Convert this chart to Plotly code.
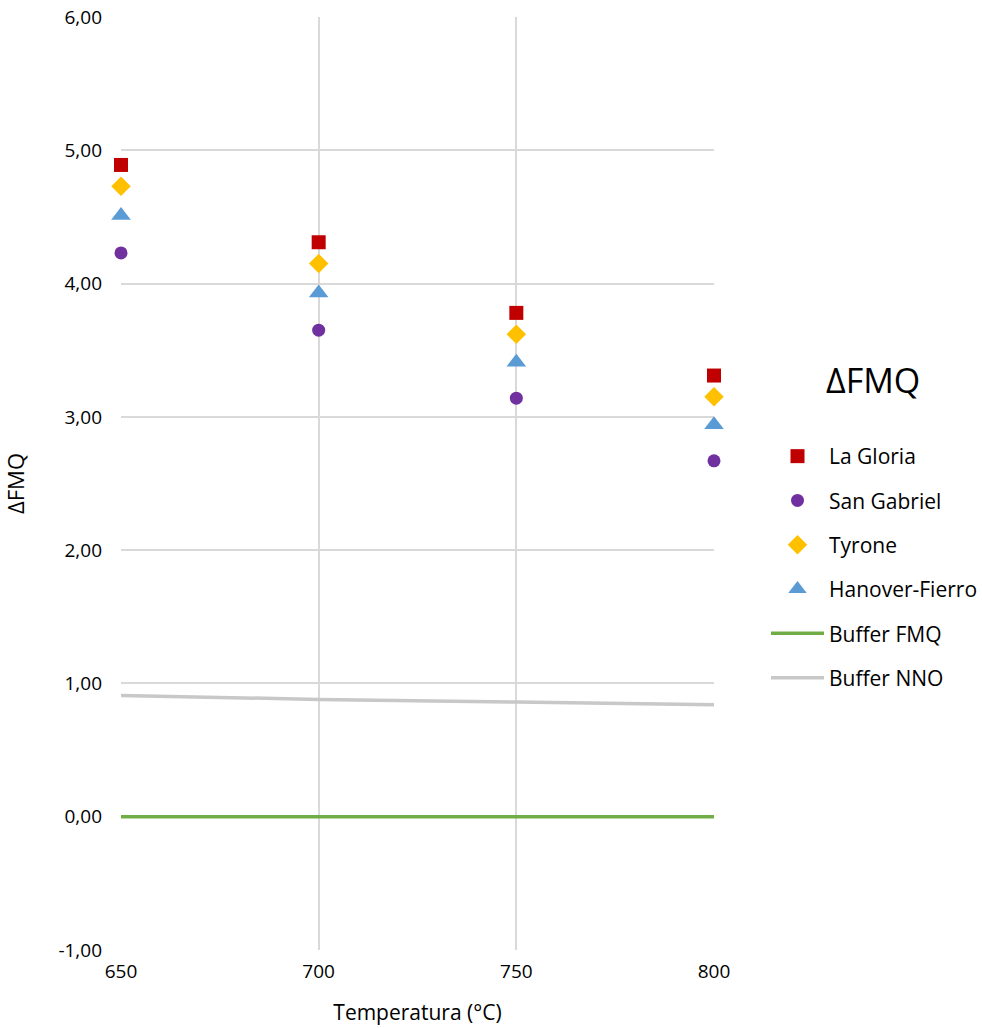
import plotly.graph_objects as go

temps = [650, 700, 750, 800]
la_gloria = [4.89, 4.31, 3.78, 3.31]
san_gabriel = [4.23, 3.65, 3.14, 2.67]
tyrone = [4.73, 4.15, 3.62, 3.15]
hanover = [4.51, 3.93, 3.41, 2.94]
buffer_fmq = [0.0, 0.0, 0.0, 0.0]
buffer_nno = [0.91, 0.88, 0.86, 0.84]
y_ticks = [-1, 0, 1, 2, 3, 4, 5, 6]
y_ticktext = ["-1,00", "0,00", "1,00", "2,00", "3,00", "4,00", "5,00", "6,00"]

FONT = "Open Sans"

fig = go.Figure()
markers = [
    ("La Gloria", la_gloria, "#c00000", "square", 14),
    ("San Gabriel", san_gabriel, "#7030a0", "circle", 13),
    ("Tyrone", tyrone, "#ffc000", "diamond", 15),
    ("Hanover-Fierro", hanover, "#5b9bd5", "triangle-up", 17),
]
for name, vals, col, sym, sz in markers:
    fig.add_trace(go.Scatter(x=temps, y=vals, mode="markers", name=name,
                             legendgroup=name, cliponaxis=False,
                             marker=dict(color=col, symbol=sym, size=sz)))
fig.add_trace(go.Scatter(x=temps, y=buffer_fmq, mode="lines", name="Buffer FMQ",
                         legendgroup="fmq", cliponaxis=False,
                         line=dict(color="#70ad47", width=3.5)))
fig.add_trace(go.Scatter(x=temps, y=buffer_nno, mode="lines", name="Buffer NNO",
                         legendgroup="nno", cliponaxis=False,
                         line=dict(color="#c8c8c8", width=3.5)))

fig.add_annotation(text="ΔFMQ", xref="paper", yref="paper",
                   x=(873 - 121) / 593, y=(950 - 380) / 933,
                   xanchor="center", yanchor="middle", showarrow=False,
                   font=dict(size=34, family=FONT, color="#000000"))

fig.update_layout(
    width=982, height=1028,
    margin=dict(l=121, r=268, t=17, b=78, autoexpand=False),
    paper_bgcolor="white", plot_bgcolor="white",
    separators=",.",
    font=dict(family=FONT, size=19, color="#000000"),
    showlegend=True,
    legend=dict(
        x=(766 - 121) / 593, xanchor="left", y=(950 - 436) / 933, yanchor="top",
        font=dict(size=21, family=FONT),
        tracegroupgap=14,
        itemwidth=53,
        bgcolor="rgba(0,0,0,0)",
        traceorder="grouped",
    ),
    xaxis=dict(
        range=[650, 800], tickvals=temps, ticktext=[str(t) for t in temps],
        showgrid=True, gridcolor="#d9d9d9", gridwidth=2,
        zeroline=False, showline=False, automargin=False,
        title=dict(text="Temperatura (°C)", font=dict(size=21), standoff=22),
        tickfont=dict(size=19),
        ticks="", ticklabelstandoff=8,
    ),
    yaxis=dict(
        range=[-1, 6], tickvals=y_ticks, ticktext=y_ticktext,
        showgrid=True, gridcolor="#d9d9d9", gridwidth=2,
        zeroline=False, showline=False, automargin=False,
        title=dict(text="ΔFMQ", font=dict(size=22), standoff=28),
        tickfont=dict(size=19),
        ticks="", ticklabelstandoff=18,
    ),
)

fig.write_html("out.html")
